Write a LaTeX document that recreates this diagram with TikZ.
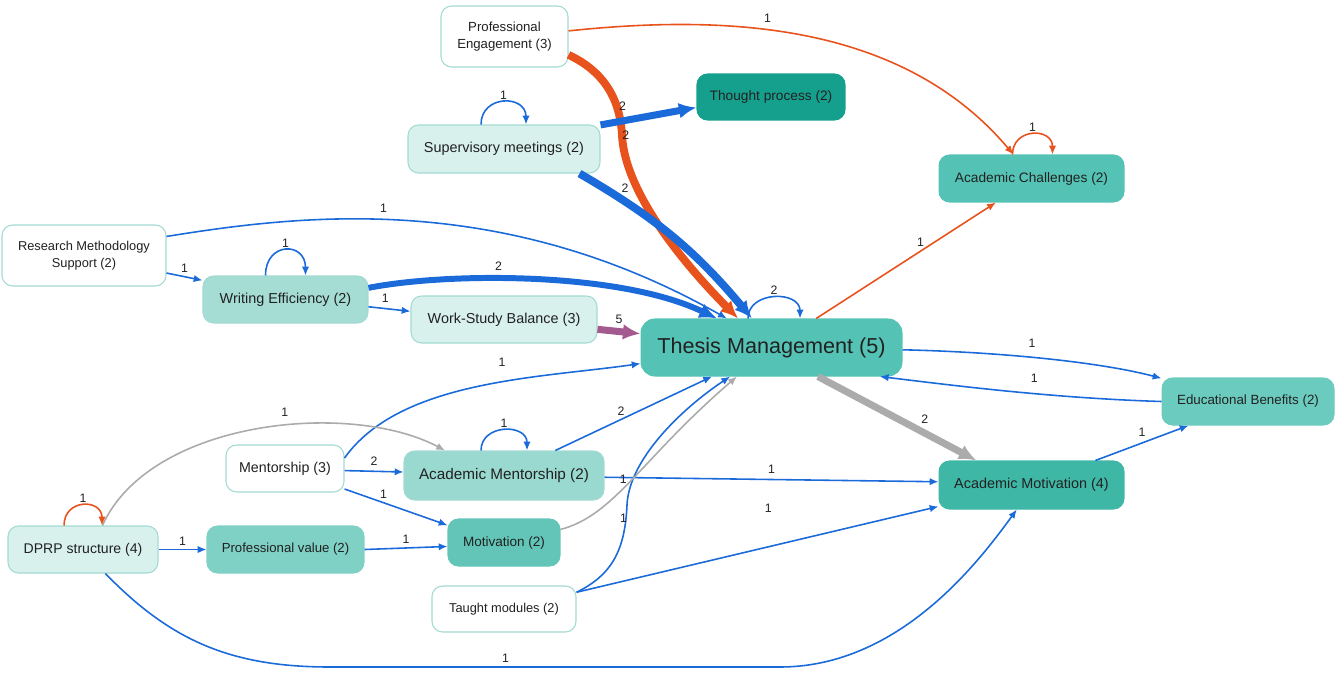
\documentclass[tikz,border=0pt]{standalone}
\usepackage{fontspec}
\setmainfont{Liberation Sans}
\usetikzlibrary{arrows.meta}

\definecolor{linkblue}{HTML}{1A6AD9}
\definecolor{linkorange}{HTML}{E8521C}
\definecolor{linkgray}{HTML}{ABABAB}
\definecolor{linkpurple}{HTML}{A35A8E}
\definecolor{rim}{HTML}{A3DAD2}
\definecolor{tpale}{HTML}{D8F1ED}
\definecolor{tlight}{HTML}{A5DDD5}
\definecolor{tment}{HTML}{9AD9D0}
\definecolor{tmid}{HTML}{7FD0C5}
\definecolor{tmot}{HTML}{62C5B8}
\definecolor{tben}{HTML}{6CCBBF}
\definecolor{tmain}{HTML}{54C3B5}
\definecolor{tdeep}{HTML}{3FB7A7}
\definecolor{tdark}{HTML}{15A08E}

\begin{document}
\begin{tikzpicture}[x=0.02cm, y=-0.02cm,
  sz/.style={font=\fontsize{#1}{9.6}\selectfont},
  box/.style={draw=rim, line width=0.6pt, rounded corners=6pt, inner sep=0pt,
    align=center, text=black!87, sz=8.2},
  lbl/.style={sz=7, text=black!87, inner sep=1pt},
  wire/.style={line width=0.9pt, -{Latex[length=5pt,width=4.2pt]}},
  fat/.style={line width=#1, -{Latex[length=10pt,width=9pt]}}]
\useasboundingbox (0,0) rectangle (1335,673);

%% topics
\node[box, fill=white, sz=7.5, minimum width=2.54cm, minimum height=1.22cm] (engage) at (504.5,36.5) {Professional\\Engagement (3)};
\node[box, fill=tdark, draw=tdark, sz=7.8, minimum width=2.96cm, minimum height=0.92cm] (thought) at (771,97) {Thought process (2)};
\node[box, fill=tpale, minimum width=3.84cm, minimum height=0.96cm] (sup) at (504,149) {Supervisory meetings (2)};
\node[box, fill=tmain, draw=tmain, sz=7.8, minimum width=3.70cm, minimum height=0.94cm] (chall) at (1031.5,178.5) {Academic Challenges (2)};
\node[box, fill=white, sz=7.3, minimum width=3.28cm, minimum height=1.22cm] (resmeth) at (84,255.5) {Research Methodology\\Support (2)};
\node[box, fill=tlight, minimum width=3.30cm, minimum height=0.94cm] (writing) at (285.5,299.5) {Writing Efficiency (2)};
\node[box, fill=tpale, minimum width=3.72cm, minimum height=0.94cm] (balance) at (504,319.5) {Work-Study Balance (3)};
\node[box, fill=tmain, draw=tmain, rounded corners=8pt, sz=12.3, minimum width=5.22cm, minimum height=1.14cm] (thesis) at (771.5,347.5) {Thesis Management (5)};
\node[box, fill=tben, draw=tben, sz=7.6, minimum width=3.44cm, minimum height=0.94cm] (benefit) at (1248,401.5) {Educational Benefits (2)};
\node[box, fill=white, sz=8.1, minimum width=2.36cm, minimum height=0.94cm] (mentor) at (285,468.5) {Mentorship (3)};
\node[box, fill=tment, sz=8.7, minimum width=4.00cm, minimum height=0.98cm] (acment) at (504,475.5) {Academic Mentorship (2)};
\node[box, fill=tdeep, draw=tdeep, minimum width=3.70cm, minimum height=0.96cm] (acmot) at (1031.5,485) {Academic Motivation (4)};
\node[box, fill=tpale, sz=8, minimum width=3.00cm, minimum height=0.94cm] (dprp) at (83,549.5) {DPRP structure (4)};
\node[box, fill=tmid, draw=tmid, sz=7.5, minimum width=3.14cm, minimum height=0.94cm] (profval) at (285.5,549.5) {Professional value (2)};
\node[box, fill=tmot, draw=tmot, sz=7.7, minimum width=2.24cm, minimum height=0.94cm] (motiv) at (504,542.5) {Motivation (2)};
\node[box, fill=white, sz=7.3, minimum width=2.88cm, minimum height=0.92cm] (taught) at (504,609) {Taught modules (2)};

%% links at the top
\draw[wire, linkorange] (engage.5) .. controls (720,15) and (900,20) .. node[lbl, pos=0.42, above=3pt] (w1) {1} (chall.127);
\draw[fat=4.5pt, linkorange] (engage.344) .. controls (605,72) and (620,100) .. (622,135) node[lbl, right=-3pt] (w2) {2}
  .. controls (625,200) and (700,280) .. (thesis.139);
\draw[wire, linkblue] ([xshift=-0.46cm]sup.north) .. controls +(0,-30) and +(0,-30) .. node[lbl, above] (w3) {1} ([xshift=0.44cm]sup.north);
\draw[fat=4pt, linkblue] (sup.14) -- node[lbl, pos=0.23, above=3pt] (w4) {2} (thought.188);
\draw[fat=4.5pt, linkblue] (sup.342) to[bend left=10] node[lbl, pos=0.22, above=2pt] (w5) {2} (thesis.124);
\draw[wire, linkorange] ([xshift=-0.38cm]chall.north) .. controls +(0,-27) and +(0,-27) .. node[lbl, above] (w6) {1} ([xshift=0.42cm]chall.north);
\draw[wire, linkorange] (thesis.33) -- node[lbl, pos=0.58, above=1pt] (w7) {1} (chall.214);

%% links on the left
\draw[wire, linkblue] (resmeth.13) .. controls (300,215) and (500,190) .. node[lbl, pos=0.45, above=2.5pt] (w8) {1} (thesis.147);
\draw[wire, linkblue] (resmeth.348) -- node[lbl, above=1pt] (w9) {1} (writing.167);
\draw[wire, linkblue] ([xshift=-0.40cm]writing.north) .. controls +(0,-34) and +(0,-34) .. node[lbl, above] (w10) {1} ([xshift=0.40cm]writing.north);
\draw[fat=3.4pt, linkblue] (writing.8) .. controls (450,272) and (620,272) .. node[lbl, pos=0.4, above=2pt] (w11) {2} (thesis.152);
\draw[wire, linkblue] (writing.355) -- node[lbl, pos=0.4, above=2pt] (w12) {1} (balance.175);
\draw[fat=4pt, linkpurple] (balance.354) -- node[lbl, above=1.5pt] (w13) {5} (thesis.174);

%% links on the right
\draw[wire, linkblue] ([xshift=-0.47cm]thesis.north) .. controls +(0,-28) and +(0,-28) .. node[lbl, above] (w14) {2} ([xshift=0.57cm]thesis.north);
\draw[wire, linkblue] (thesis.359) .. controls (1000,352) and (1100,362) .. node[lbl, pos=0.45, above=4pt] (w15) {1} (benefit.165);
\draw[wire, linkblue] (benefit.180) .. controls (1050,398) and (950,385) .. node[lbl, pos=0.4, above=5pt] (w16) {1} (thesis.345);
\draw[fat=4pt, linkgray] (thesis.328) -- node[lbl, pos=0.62, above right=0pt] (w17) {2} (acmot.156);
\draw[wire, linkblue] (acmot.21) -- node[lbl, above=2pt] (w18) {1} (benefit.202);

%% links at the bottom
\draw[wire, linkblue] (mentor.10) .. controls (400,380) and (540,378) .. node[lbl, pos=0.58, above=7pt] (w19) {1} (thesis.187);
\draw[wire, linkgray] (dprp.51) .. controls (150,420) and (350,400) .. node[lbl, pos=0.57, above=4pt] (w20) {1} (acment.157);
\draw[wire, linkorange] ([xshift=-0.38cm]dprp.north) .. controls +(0,-27) and +(0,-27) .. node[lbl, above] (w21) {1} ([xshift=0.38cm]dprp.north);
\draw[wire, linkblue] ([xshift=-0.46cm]acment.north) .. controls +(0,-27) and +(0,-27) .. node[lbl, above] (w22) {1} ([xshift=0.46cm]acment.north);
\draw[wire, linkblue] (mentor.358) -- node[lbl, above=2pt] (w23) {2} (acment.178);
\draw[wire, linkblue] (mentor.341) -- node[lbl, pos=0.38, above=1pt] (w24) {1} (motiv.163);
\draw[wire, linkblue] (acment.26) -- node[lbl, pos=0.42, above=1pt] (w25) {2} (thesis.206);
\draw[wire, linkblue] (acment.359) -- node[lbl, above=2pt] (w26) {1} (acmot.178);
\draw[wire, linkblue] (dprp.east) -- node[lbl, above=1pt] (w27) {1} (profval.west);
\draw[wire, linkblue] (profval.east) -- node[lbl, above=1pt] (w28) {1} (motiv.184);
\draw[wire, linkblue] (dprp.313) .. controls (170,640) and (230,667) .. (330,667)
  -- node[lbl, pos=0.39, above=1pt] (w29) {1} (780,667) .. controls (900,667) and (980,560) .. (acmot.239);
\draw[wire, linkblue] (taught.13) -- node[lbl, pos=0.53, above=18pt] (w30) {1} (acmot.193);
\draw[wire, linkblue] (taught.13) .. controls (612,575) and (625,550) .. node[lbl, pos=0.9, left=-2pt] (w31) {1} (627,505)
  .. controls (629,460) and (680,410) .. (thesis.215);
\draw[wire, linkgray] (motiv.13) .. controls (615,515) and (640,460) .. node[lbl, pos=0.5, left=2pt] (w32) {1} (thesis.220);
\end{tikzpicture}
\end{document}
